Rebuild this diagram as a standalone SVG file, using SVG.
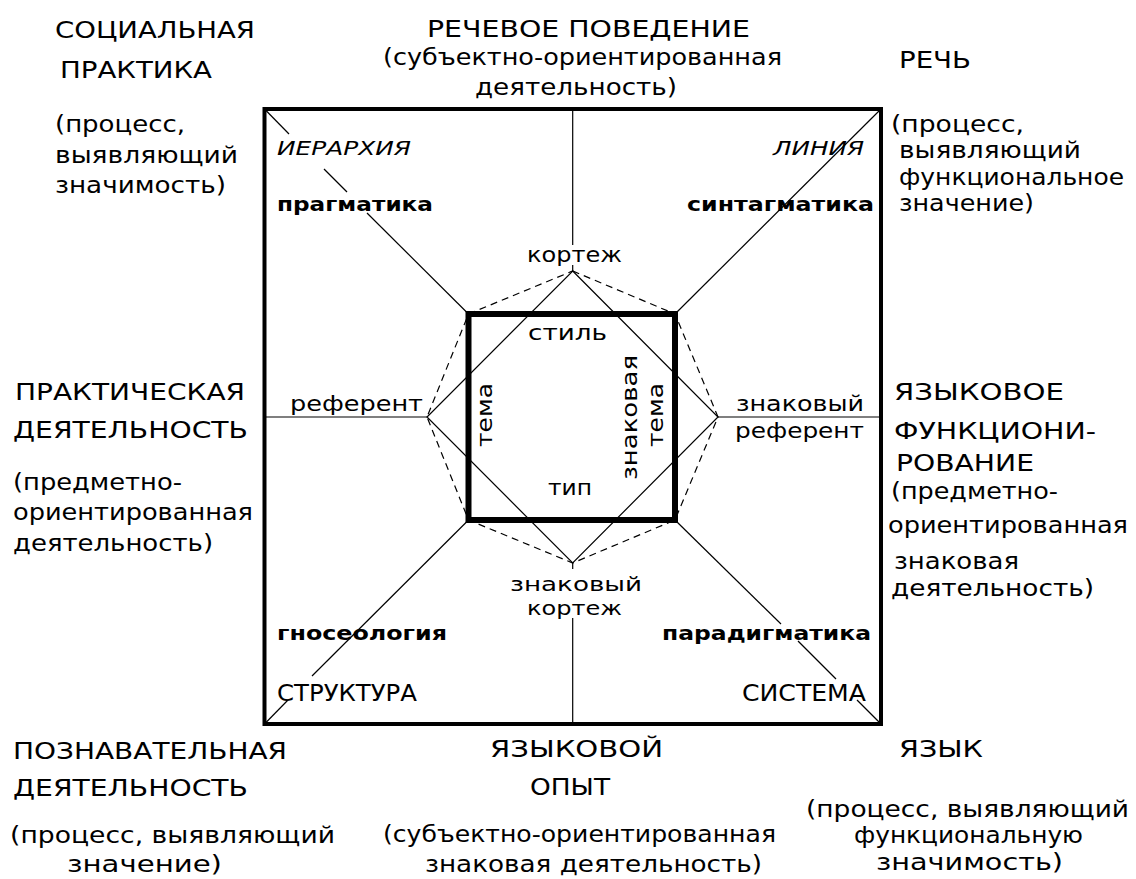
<svg xmlns="http://www.w3.org/2000/svg" width="1136" height="879" viewBox="0 0 1136 879">
<style>
text{font-family:"DejaVu Sans","Liberation Sans",sans-serif;fill:#000}
.t{font-size:23px}
.s{font-size:21px}
.k{font-size:20px}
.b{font-size:19px;font-weight:bold}
.i{font-size:20px;font-style:italic}
.thin{stroke:#000;stroke-width:1.2;fill:none}
.dash{stroke:#000;stroke-width:1.2;fill:none;stroke-dasharray:7 5}
</style>
<rect x="0" y="0" width="1136" height="879" fill="#fff"/>

<g id="connectors">
  <line class="thin" x1="264.5" y1="109" x2="289" y2="134"/>
  <line class="thin" x1="324" y1="169" x2="347" y2="192"/>
  <line class="thin" x1="367" y1="213" x2="468.5" y2="314"/>
  <line class="thin" x1="881" y1="109" x2="675" y2="314"/>
  <line class="thin" x1="264.5" y1="724" x2="288" y2="700"/>
  <line class="thin" x1="312" y1="676" x2="468.5" y2="520"/>
  <line class="thin" x1="881" y1="724" x2="857" y2="700"/>
  <line class="thin" x1="836" y1="679" x2="798" y2="641"/>
  <line class="thin" x1="781" y1="624" x2="675" y2="520"/>
  <line class="thin" x1="572.7" y1="109" x2="572.7" y2="245"/>
  <line class="thin" x1="572.7" y1="265" x2="572.7" y2="271"/>
  <line class="thin" x1="572.7" y1="563" x2="572.7" y2="569"/>
  <line class="thin" x1="572.7" y1="618" x2="572.7" y2="724"/>
  <line class="thin" x1="264.5" y1="417" x2="427" y2="417"/>
  <line class="thin" x1="718" y1="417" x2="881" y2="417"/>
  <polygon class="thin" points="572.7,271 718,417 572.7,563 427,417"/>
  <polygon class="dash" points="572.7,271 675,314 718,417 675,520 572.7,563 468.5,520 427,417 468.5,314"/>
</g>

<g id="frame">
  <rect x="264.5" y="109" width="616.5" height="615" fill="none" stroke="#000" stroke-width="4"/>
  <rect x="468.5" y="314" width="206.5" height="206" fill="none" stroke="#000" stroke-width="6"/>
</g>

<g id="social-practice">
  <text class="t" x="55" y="38" textLength="200" lengthAdjust="spacingAndGlyphs">СОЦИАЛЬНАЯ</text>
  <text class="t" x="60" y="78" textLength="152" lengthAdjust="spacingAndGlyphs">ПРАКТИКА</text>
  <text class="t" x="55" y="132" textLength="130" lengthAdjust="spacingAndGlyphs">(процесс,</text>
  <text class="t" x="55" y="163" textLength="183" lengthAdjust="spacingAndGlyphs">выявляющий</text>
  <text class="t" x="55" y="193" textLength="171" lengthAdjust="spacingAndGlyphs">значимость)</text>
</g>

<g id="speech-behaviour">
  <text class="t" x="427" y="37" textLength="323" lengthAdjust="spacingAndGlyphs">РЕЧЕВОЕ ПОВЕДЕНИЕ</text>
  <text class="t" x="383" y="65" textLength="399" lengthAdjust="spacingAndGlyphs">(субъектно-ориентированная</text>
  <text class="t" x="475" y="95" textLength="202" lengthAdjust="spacingAndGlyphs">деятельность)</text>
</g>

<g id="speech">
  <text class="t" x="899" y="68" textLength="72" lengthAdjust="spacingAndGlyphs">РЕЧЬ</text>
  <text class="t" x="891" y="132" textLength="133" lengthAdjust="spacingAndGlyphs">(процесс,</text>
  <text class="t" x="899" y="158" textLength="182" lengthAdjust="spacingAndGlyphs">выявляющий</text>
  <text class="t" x="899" y="185" textLength="225" lengthAdjust="spacingAndGlyphs">функциональное</text>
  <text class="t" x="899" y="211" textLength="135" lengthAdjust="spacingAndGlyphs">значение)</text>
</g>

<g id="practical-activity">
  <text class="t" x="15" y="400" textLength="230" lengthAdjust="spacingAndGlyphs">ПРАКТИЧЕСКАЯ</text>
  <text class="t" x="13" y="438" textLength="235" lengthAdjust="spacingAndGlyphs">ДЕЯТЕЛЬНОСТЬ</text>
  <text class="t" x="13" y="490" textLength="169" lengthAdjust="spacingAndGlyphs">(предметно-</text>
  <text class="t" x="13" y="520" textLength="240" lengthAdjust="spacingAndGlyphs">ориентированная</text>
  <text class="t" x="13" y="551" textLength="200" lengthAdjust="spacingAndGlyphs">деятельность)</text>
</g>

<g id="language-functioning">
  <text class="t" x="894" y="400" textLength="170" lengthAdjust="spacingAndGlyphs">ЯЗЫКОВОЕ</text>
  <text class="t" x="894" y="439" textLength="202" lengthAdjust="spacingAndGlyphs">ФУНКЦИОНИ-</text>
  <text class="t" x="896" y="471" textLength="138" lengthAdjust="spacingAndGlyphs">РОВАНИЕ</text>
  <text class="t" x="891" y="499" textLength="167" lengthAdjust="spacingAndGlyphs">(предметно-</text>
  <text class="t" x="888" y="533" textLength="240" lengthAdjust="spacingAndGlyphs">ориентированная</text>
  <text class="t" x="894" y="569" textLength="125" lengthAdjust="spacingAndGlyphs">знаковая</text>
  <text class="t" x="891" y="596" textLength="203" lengthAdjust="spacingAndGlyphs">деятельность)</text>
</g>

<g id="cognitive-activity">
  <text class="t" x="13" y="759" textLength="274" lengthAdjust="spacingAndGlyphs">ПОЗНАВАТЕЛЬНАЯ</text>
  <text class="t" x="13" y="796" textLength="235" lengthAdjust="spacingAndGlyphs">ДЕЯТЕЛЬНОСТЬ</text>
  <text class="t" x="10" y="843" textLength="325" lengthAdjust="spacingAndGlyphs">(процесс, выявляющий</text>
  <text class="t" x="67" y="872" textLength="155" lengthAdjust="spacingAndGlyphs">значение)</text>
</g>

<g id="language-experience">
  <text class="t" x="490" y="757" textLength="173" lengthAdjust="spacingAndGlyphs">ЯЗЫКОВОЙ</text>
  <text class="t" x="530" y="795" textLength="80" lengthAdjust="spacingAndGlyphs">ОПЫТ</text>
  <text class="t" x="383" y="842" textLength="393" lengthAdjust="spacingAndGlyphs">(субъектно-ориентированная</text>
  <text class="t" x="425" y="872" textLength="337" lengthAdjust="spacingAndGlyphs">знаковая деятельность)</text>
</g>

<g id="language">
  <text class="t" x="899" y="757" textLength="84" lengthAdjust="spacingAndGlyphs">ЯЗЫК</text>
  <text class="t" x="806" y="817" textLength="323" lengthAdjust="spacingAndGlyphs">(процесс, выявляющий</text>
  <text class="t" x="854" y="843" textLength="229" lengthAdjust="spacingAndGlyphs">функциональную</text>
  <text class="t" x="876" y="870" textLength="187" lengthAdjust="spacingAndGlyphs">значимость)</text>
</g>

<g id="quadrant-tl">
  <text class="i" x="277" y="155" textLength="134" lengthAdjust="spacingAndGlyphs">ИЕРАРХИЯ</text>
  <text class="b" x="277" y="211" textLength="156" lengthAdjust="spacingAndGlyphs">прагматика</text>
</g>
<g id="quadrant-tr">
  <text class="i" x="773" y="155" textLength="91" lengthAdjust="spacingAndGlyphs">ЛИНИЯ</text>
  <text class="b" x="687" y="211" textLength="187" lengthAdjust="spacingAndGlyphs">синтагматика</text>
</g>
<g id="quadrant-bl">
  <text class="b" x="277" y="640" textLength="170" lengthAdjust="spacingAndGlyphs">гносеология</text>
  <text class="t" x="277" y="701" textLength="140" lengthAdjust="spacingAndGlyphs">СТРУКТУРА</text>
</g>
<g id="quadrant-br">
  <text class="b" x="662" y="640" textLength="209" lengthAdjust="spacingAndGlyphs">парадигматика</text>
  <text class="t" x="742" y="701" textLength="124" lengthAdjust="spacingAndGlyphs">СИСТЕМА</text>
</g>

<g id="tuple">
  <text class="s" x="527" y="262" textLength="95" lengthAdjust="spacingAndGlyphs">кортеж</text>
</g>
<g id="referent">
  <text class="s" x="290" y="411" textLength="133" lengthAdjust="spacingAndGlyphs">референт</text>
</g>
<g id="sign-referent">
  <text class="s" x="736" y="411" textLength="128" lengthAdjust="spacingAndGlyphs">знаковый</text>
  <text class="s" x="735" y="438" textLength="129" lengthAdjust="spacingAndGlyphs">референт</text>
</g>
<g id="sign-tuple">
  <text class="k" x="510" y="591" textLength="132" lengthAdjust="spacingAndGlyphs">знаковый</text>
  <text class="k" x="527" y="615" textLength="95" lengthAdjust="spacingAndGlyphs">кортеж</text>
</g>
<g id="style">
  <text class="s" x="528" y="340" textLength="79" lengthAdjust="spacingAndGlyphs">стиль</text>
</g>
<g id="type">
  <text class="s" x="548" y="495" textLength="44" lengthAdjust="spacingAndGlyphs">тип</text>
</g>
<g id="theme">
  <text class="s" transform="translate(492,447) rotate(-90)" x="0" y="0" textLength="64" lengthAdjust="spacingAndGlyphs">тема</text>
</g>
<g id="sign-theme">
  <text class="s" transform="translate(637,480) rotate(-90)" x="0" y="0" textLength="125" lengthAdjust="spacingAndGlyphs">знаковая</text>
  <text class="s" transform="translate(663,447) rotate(-90)" x="0" y="0" textLength="64" lengthAdjust="spacingAndGlyphs">тема</text>
</g>
</svg>
